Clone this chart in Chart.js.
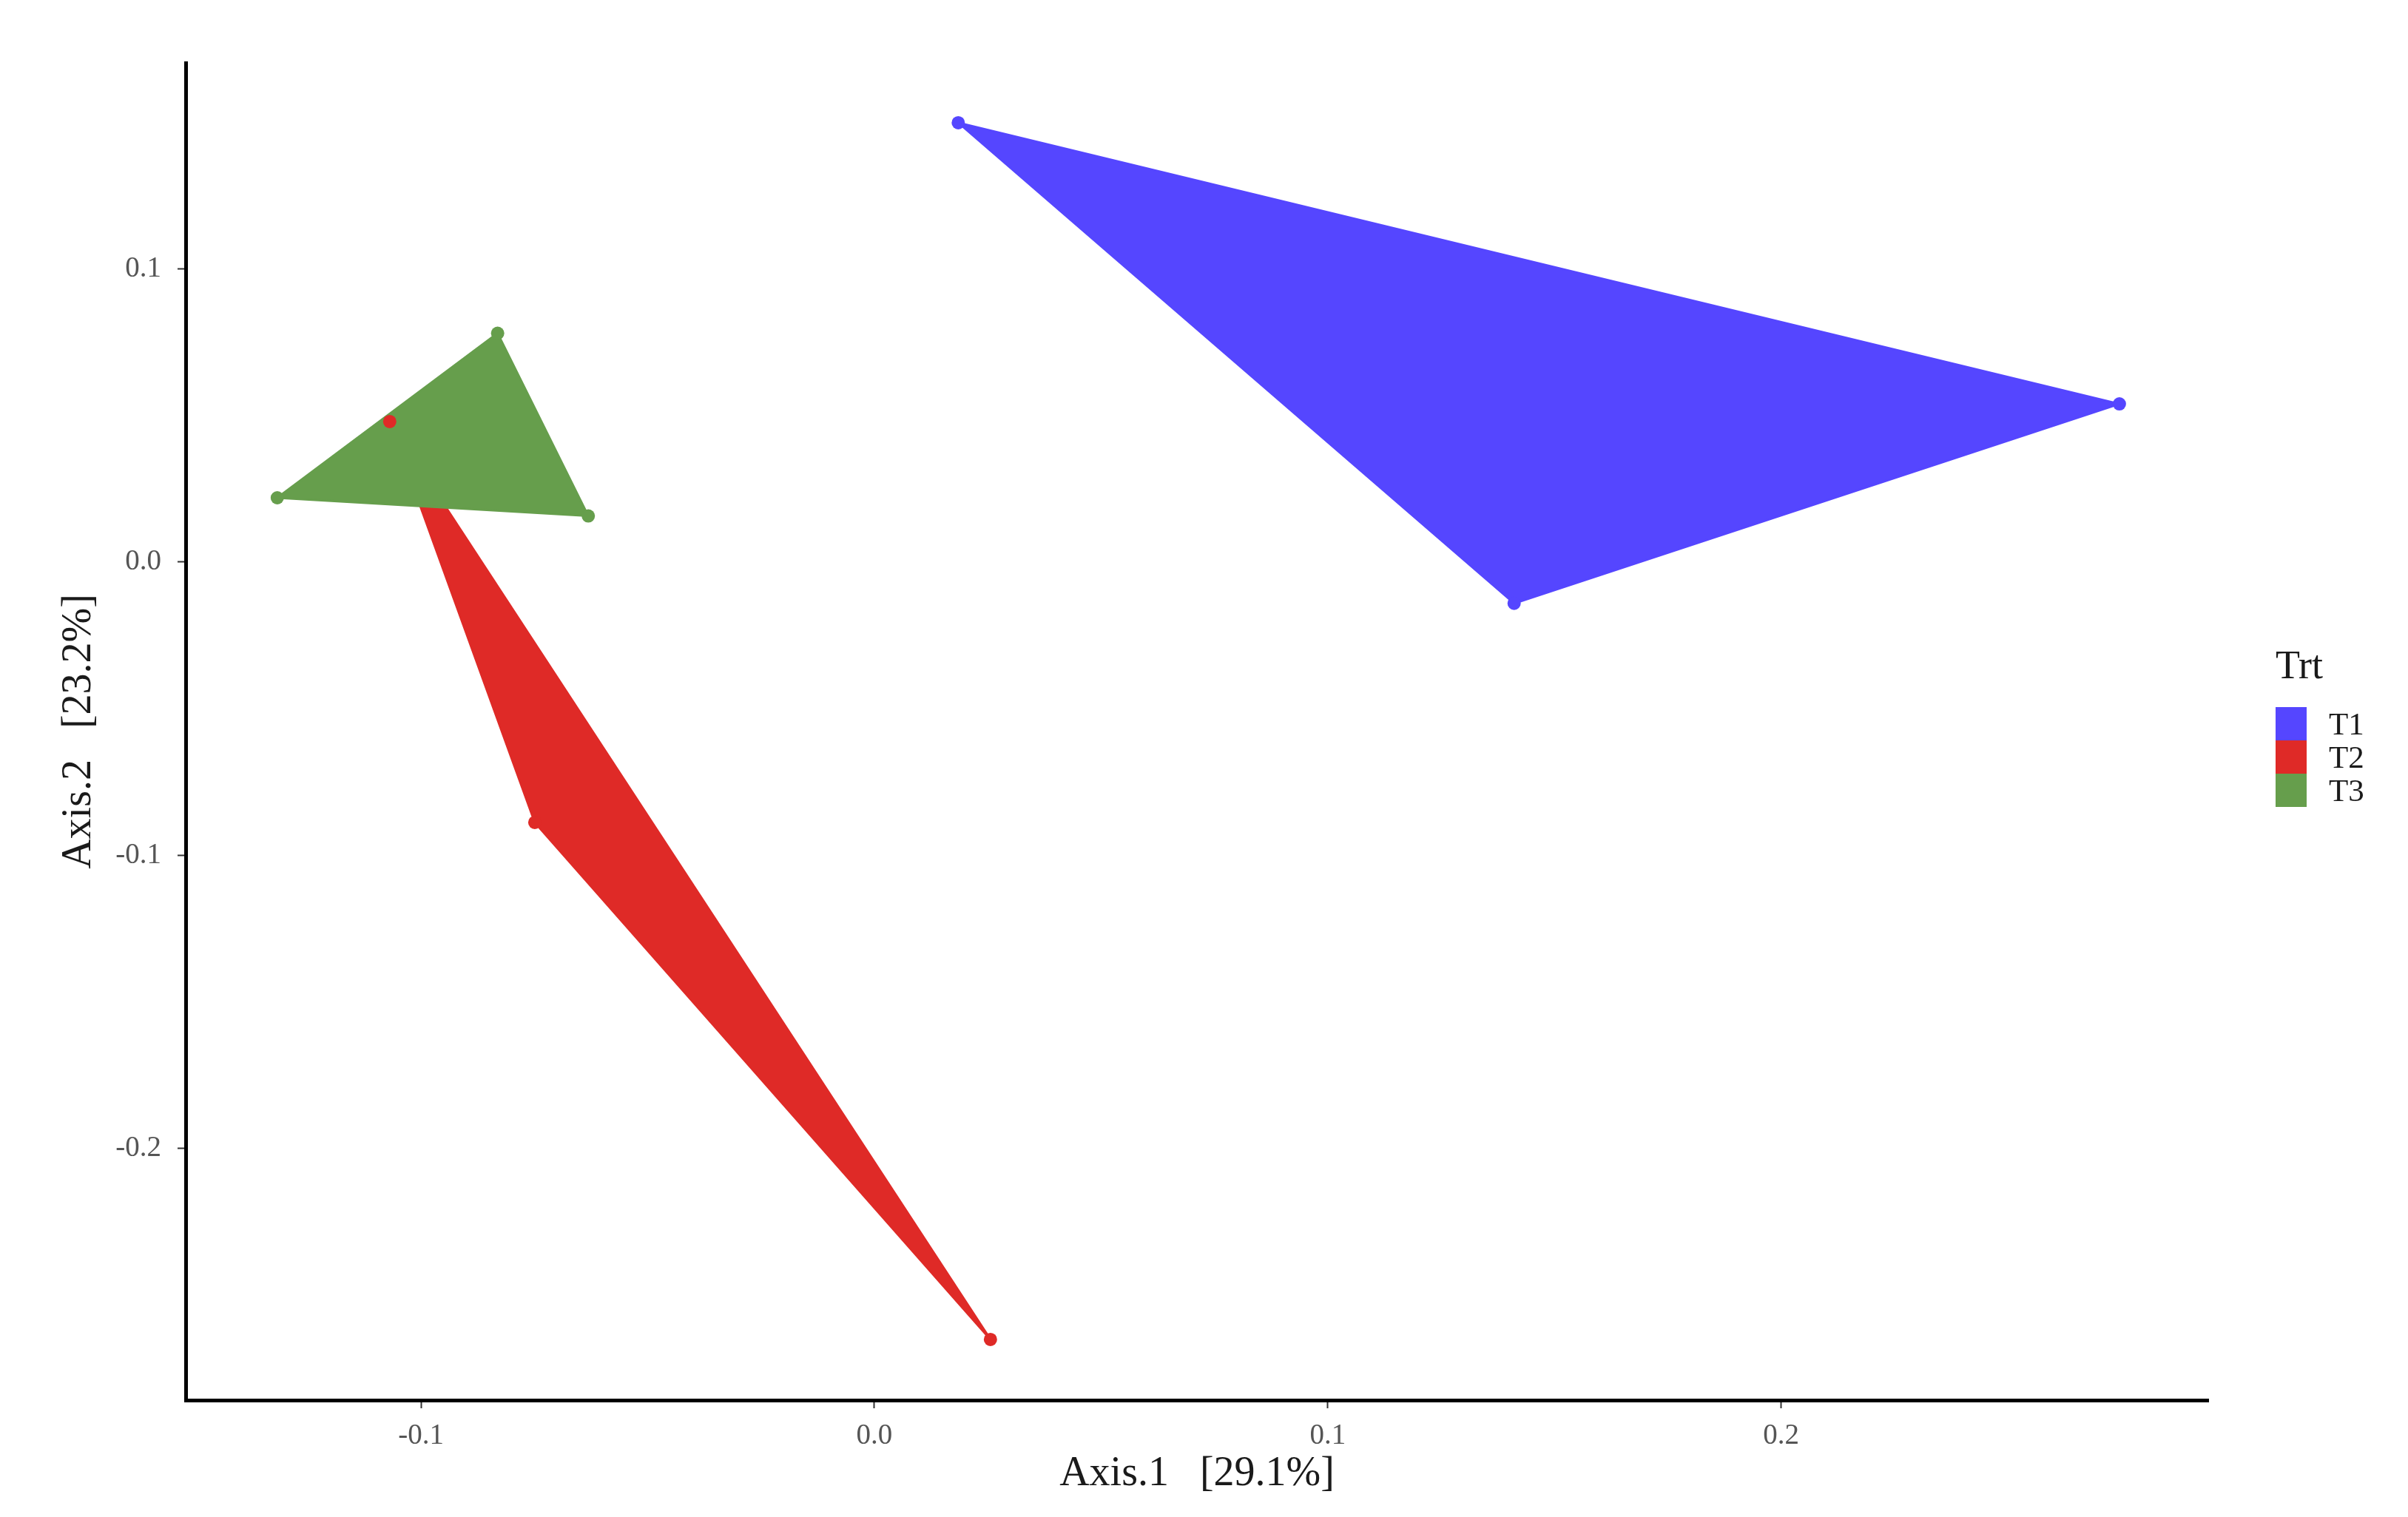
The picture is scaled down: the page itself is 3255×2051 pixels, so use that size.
<!DOCTYPE html>
<html>
<head>
<meta charset="utf-8">
<title>PCoA Trt</title>
<script src="https://cdn.jsdelivr.net/npm/chart.js@4/dist/chart.umd.min.js"></script>
<style>
  body { margin: 0; background: #fff; }
  #wrap { position: relative; width: 3255px; height: 2051px; }
  #legend { position: absolute; left: 3076px; top: 868px; font-family: "Liberation Serif", serif; color: #1a1a1a; }
  #legend .title { font-size: 54px; line-height: 62px; margin-bottom: 26px; }
  #legend .row { display: flex; align-items: center; height: 45px; }
  #legend .box { width: 42px; height: 45px; margin-right: 30px; }
  #legend .lab { font-size: 43px; }
</style>
</head>
<body>
<div id="wrap">
  <canvas id="pcoa" width="3255" height="2051"></canvas>
  <div id="legend"></div>
</div>
<script>
// group names and colours
const groups = ['T1', 'T2', 'T3'];
const colors = ['#5546FF', '#DF2A27', '#669E4C'];

// sample coordinates (Axis.1, Axis.2)
const t1X = [0.0185, 0.2746, 0.1411];
const t1Y = [0.1498, 0.0539, -0.0141];
const t2X = [-0.1069, -0.0749, 0.0256];
const t2Y = [0.0479, -0.0888, -0.2651];
const t3X = [-0.1317, -0.0831, -0.0631];
const t3Y = [0.0219, 0.0780, 0.0157];

const xTicks = [-0.1, 0.0, 0.1, 0.2];
const yTicks = [-0.2, -0.1, 0.0, 0.1];

function toPoints(xs, ys) {
  return xs.map((x, i) => ({ x: x, y: ys[i] }));
}

const allX = [t1X, t2X, t3X];
const allY = [t1Y, t2Y, t3Y];

const datasets = groups.map((g, i) => ({
  label: g,
  data: toPoints(allX[i], allY[i]),
  backgroundColor: colors[i],
  borderColor: colors[i],
  pointRadius: 9,
  pointHoverRadius: 9,
  borderWidth: 0,
  showLine: false
}));

// fill each group's hull polygon under the points
const hullPlugin = {
  id: 'hulls',
  beforeDatasetsDraw(chart) {
    const ctx = chart.ctx;
    ctx.save();
    chart.data.datasets.forEach((ds, i) => {
      const pts = chart.getDatasetMeta(i).data;
      if (!pts.length) return;
      ctx.beginPath();
      pts.forEach((p, j) => {
        if (j === 0) ctx.moveTo(p.x, p.y);
        else ctx.lineTo(p.x, p.y);
      });
      ctx.closePath();
      ctx.fillStyle = colors[i];
      ctx.strokeStyle = colors[i];
      ctx.lineWidth = 3;
      ctx.lineJoin = 'round';
      ctx.fill();
      ctx.stroke();
    });
    ctx.restore();
  }
};

const tickFont = { family: 'Liberation Serif', size: 39 };
const titleFont = { family: 'Liberation Serif', size: 56 };

new Chart(document.getElementById('pcoa').getContext('2d'), {
  type: 'scatter',
  data: { datasets: datasets },
  plugins: [hullPlugin],
  options: {
    responsive: false,
    animation: false,
    layout: { padding: { left: 0, right: 270, top: 85, bottom: 0 } },
    plugins: {
      legend: { display: false },
      tooltip: { enabled: false }
    },
    scales: {
      x: {
        type: 'linear',
        min: -0.1519,
        max: 0.2942,
        afterFit: function(scale) { scale.height = 158; },
        afterBuildTicks: function(scale) { scale.ticks = xTicks.map(v => ({ value: v })); },
        ticks: {
          font: tickFont,
          color: '#555555',
          padding: 14,
          includeBounds: false,
          callback: v => Number(v).toFixed(1)
        },
        grid: { drawOnChartArea: false, tickLength: 11, tickColor: '#333333', tickWidth: 2 },
        border: { display: true, color: '#000000', width: 5 },
        title: {
          display: true,
          text: 'Axis.1   [29.1%]',
          font: titleFont,
          color: '#1a1a1a',
          padding: { top: 0, bottom: 24 }
        }
      },
      y: {
        type: 'linear',
        min: -0.2858,
        max: 0.1702,
        afterFit: function(scale) { scale.width = 251; },
        afterBuildTicks: function(scale) { scale.ticks = yTicks.map(v => ({ value: v })); },
        ticks: {
          font: tickFont,
          color: '#555555',
          padding: 22,
          includeBounds: false,
          callback: v => Number(v).toFixed(1)
        },
        grid: { drawOnChartArea: false, tickLength: 11, tickColor: '#333333', tickWidth: 2 },
        border: { display: true, color: '#000000', width: 5 },
        title: {
          display: true,
          text: 'Axis.2   [23.2%]',
          font: titleFont,
          color: '#1a1a1a',
          padding: { top: 74, bottom: 0 }
        }
      }
    }
  }
});

// legend on the right, like ggplot's guide
const legend = document.getElementById('legend');
let html = '<div class="title">Trt</div>';
groups.forEach((g, i) => {
  html += '<div class="row"><div class="box" style="background:' + colors[i] + '"></div><span class="lab">' + g + '</span></div>';
});
legend.innerHTML = html;
</script>
</body>
</html>
